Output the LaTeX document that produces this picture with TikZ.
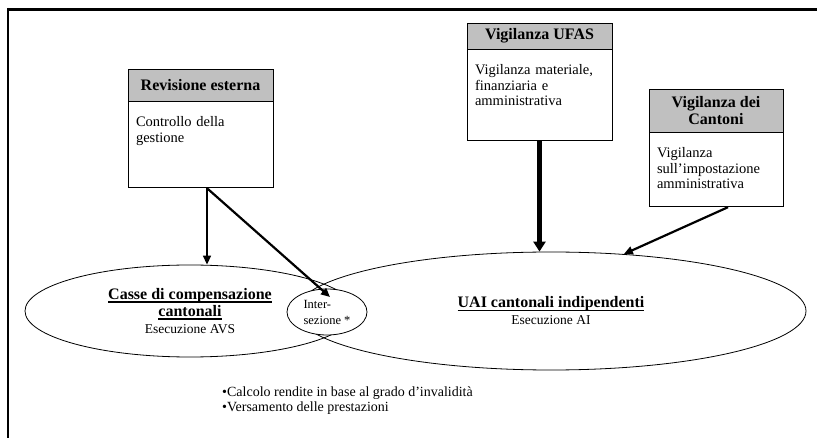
\documentclass[tikz,border=0pt]{standalone}
\usepackage{fontspec}
\setmainfont{Liberation Serif}
\usetikzlibrary{positioning,shapes.geometric,arrows.meta}
\definecolor{headgray}{RGB}{192,192,192}
\newcommand{\sott}[1]{\leavevmode\setbox0\hbox{#1}\rlap{\vrule height -2pt depth 3.1pt width \wd0}\box0}

\begin{document}
\begin{tikzpicture}[x=1pt, y=-1pt,
    head/.style={draw, line width=0.8pt, fill=headgray, align=center, inner sep=2pt,
                 font=\fontsize{16}{16.5}\selectfont\bfseries},
    body/.style={draw, line width=0.8pt, align=left, inner xsep=8pt, inner ysep=14pt,
                 text height=11pt, font=\fontsize{14.5}{15.5}\selectfont},
    area/.style={draw, ellipse, line width=0.8pt, inner sep=0pt, align=center,
                 font=\fontsize{16}{17}\selectfont\bfseries},
    arr/.style={-{Triangle[length=9pt,width=8pt]}}]
  \useasboundingbox (0,0) rectangle (817,438);
  \draw[line width=3pt] (7,9.5) -- (817,9.5);
  \draw[line width=2pt] (8,8) -- (8,438);

          \node[head, minimum width=145pt, minimum height=32pt] at (200.5,85) (revh) {Revisione esterna};
          \node[body, text width=129pt, text depth=47pt, below=0pt of revh] (revb) {Controllo della\\gestione};

          \node[head, minimum width=145pt, minimum height=26pt] at (539.5,36) (ufash) {Vigilanza UFAS};
          \node[body, text width=129pt, text depth=52pt, below=0pt of ufash] (ufasb) {Vigilanza materiale,\\finanziaria e\\amministrativa};

          \node[head, minimum width=134pt, minimum height=43pt] at (716,110.5) (canth) {Vigilanza dei\\Cantoni};
          \node[body, text width=118pt, text depth=35pt, below=0pt of canth] (cantb) {Vigilanza\\sull’impostazione\\amministrativa};

          \node[area, minimum width=330pt, minimum height=92pt] at (190,311) (casse) {\sott{Casse di compensazione}\\\sott{cantonali}\\{\fontsize{13.5}{15}\selectfont\mdseries Esecuzione AVS}};
          \node[area, minimum width=510pt, minimum height=118pt] at (551,311) (uai) {\sott{UAI cantonali indipendenti}\\{\fontsize{13.5}{15}\selectfont\mdseries Esecuzione AI}};
          \node[draw, ellipse, fill=white, line width=0.8pt, minimum width=80pt, minimum height=46pt, inner sep=0pt,
                align=left, font=\fontsize{12.5}{16}\selectfont] at (327,312) (inter) {Inter-\\sezione *};

          \node[anchor=north west, align=left, inner sep=0pt, font=\fontsize{14}{15}\selectfont] at (222,387) (elenco) {•Calcolo rendite in base al grado d’invalidità\\•Versamento delle prestazioni};

          \coordinate (revo) at ([xshift=6.5pt]revb.south);
          \coordinate (intip) at (330,297);
          \coordinate (canto) at ([xshift=12pt]cantb.south);

          \draw[arr, line width=1.5pt] (revo) -- (revo |- casse.north);
          \draw[arr, line width=2.2pt] (revo) -- (intip);
          \draw[-{Triangle[length=10pt,width=12pt]}, line width=4.5pt] (ufasb.south) -- (ufasb.south |- uai.north);
          \draw[arr, line width=2.2pt] (canto) -- (uai.38);
\end{tikzpicture}
\end{document}
